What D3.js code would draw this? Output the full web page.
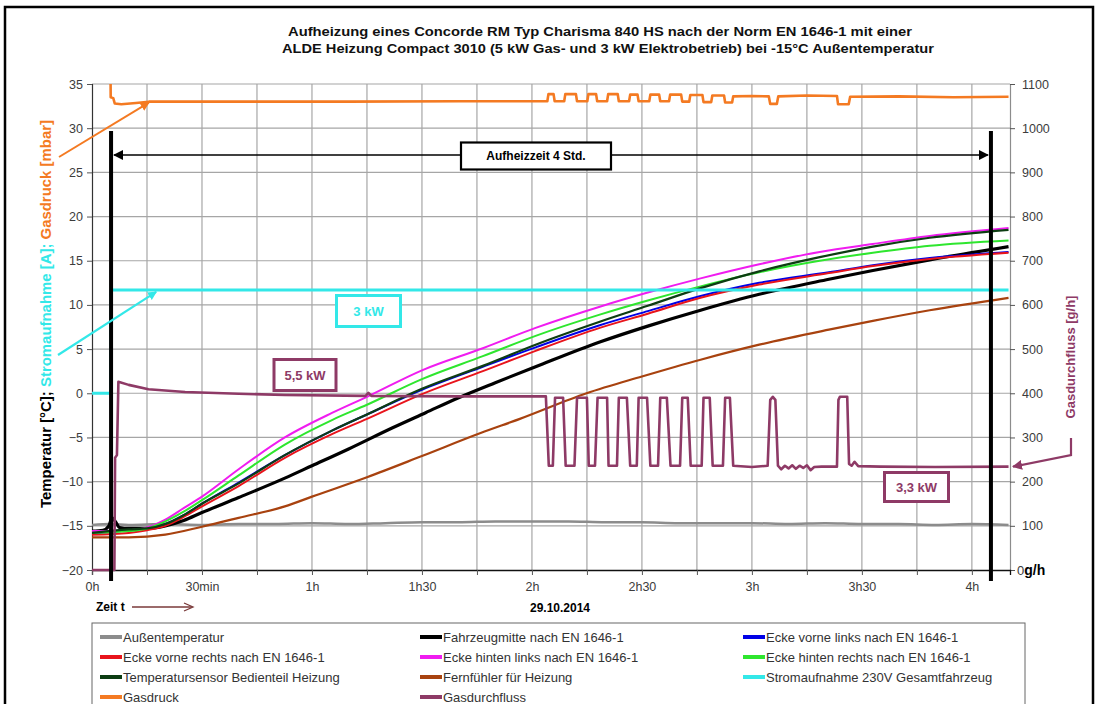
<!DOCTYPE html>
<html>
<head>
<meta charset="utf-8">
<script src="https://cdn.jsdelivr.net/npm/d3@7"></script>
<style>
  body { margin: 0; background: #fff; }
  svg { font-family: 'Liberation Sans', Arial, sans-serif; }
</style>
</head>
<body>
<div id="graf"></div>
<script>
// --- Daten (Zeit in Minuten, Werte in °C / A / mbar / g/h) ---
const seriesNames = [
  'Außentemperatur', 'Fahrzeugmitte nach EN 1646-1', 'Ecke vorne links nach EN 1646-1',
  'Ecke vorne rechts nach EN 1646-1', 'Ecke hinten links nach EN 1646-1', 'Ecke hinten rechts nach EN 1646-1',
  'Temperatursensor Bedienteil Heizung', 'Fernfühler für Heizung', 'Stromaufnahme 230V Gesamtfahrzeug',
  'Gasdruck', 'Gasdurchfluss'
]
const xTickValues = [0, 30, 60, 90, 120, 150, 180, 210, 240]
const xTickLabels = ['0h', '30min', '1h', '1h30', '2h', '2h30', '3h', '3h30', '4h']
const yLeftTicks = [-20, -15, -10, -5, 0, 5, 10, 15, 20, 25, 30, 35]
const yRightTicks = [0, 100, 200, 300, 400, 500, 600, 700, 800, 900, 1000, 1100]

const aussen = [[0,-14.9],[5,-14.8],[10,-14.9],[20,-14.8],[30,-14.9],[40,-14.8],[50,-14.8],[60,-14.7],[70,-14.8],[80,-14.7],[90,-14.6],[100,-14.6],[110,-14.5],[120,-14.5],[130,-14.5],[140,-14.6],[150,-14.6],[160,-14.7],[170,-14.7],[180,-14.7],[190,-14.8],[200,-14.7],[210,-14.8],[220,-14.8],[230,-14.9],[240,-14.8],[250,-14.9]]
const fahrzeugmitte = [[0,-15.6],[3,-15.5],[4.6,-15.0],[5.5,-14.1],[6.5,-14.6],[7.5,-15.2],[10,-15.3],[15,-15.3],[20,-15.0],[25,-14.4],[30,-13.5],[40,-11.8],[52.6,-9.6],[60,-8.2],[70,-6.3],[82,-3.9],[91,-2.2],[100,-0.5],[110,1.2],[121,3.0],[138.5,5.8],[151.6,7.6],[166,9.4],[182,11.2],[201,12.9],[213,13.9],[228.5,15.1],[250,16.6]]
const eckeVorneLinks = [[0,-15.9],[10,-15.5],[15,-15.3],[20,-14.8],[25,-13.8],[30,-12.5],[40,-10.1],[52.6,-7.0],[65.6,-4.2],[75,-2.4],[90,0.4],[106.6,3.0],[121,5.2],[138.5,7.7],[151.6,9.3],[166,11.0],[182,12.5],[201,13.7],[213,14.5],[228.5,15.3],[250,16.0]]
const eckeVorneRechts = [[0,-16.0],[10,-15.8],[15,-15.5],[20,-15.0],[25,-14.0],[30,-12.8],[40,-10.5],[52.6,-7.3],[65.6,-4.6],[75,-2.9],[90,-0.1],[106.6,2.5],[121,4.8],[138.5,7.4],[151.6,9.0],[166,10.8],[182,12.3],[201,13.6],[213,14.4],[228.5,15.2],[250,15.9]]
const eckeHintenLinks = [[0,-15.6],[10,-15.5],[15,-15.2],[20,-14.3],[25,-13.0],[30,-11.7],[40,-8.6],[52.6,-5.0],[65.6,-2.2],[75,-0.4],[90,2.6],[106.6,5.1],[121,7.4],[138.5,9.8],[151.6,11.4],[166,13.0],[182,14.6],[198.5,16.0],[213,16.9],[228.5,17.8],[250,18.7]]
const eckeHintenRechts = [[0,-15.8],[10,-15.6],[15,-15.3],[20,-14.5],[25,-13.4],[30,-12.1],[40,-9.3],[52.6,-5.8],[65.6,-3.0],[75,-1.3],[90,1.6],[106.6,4.2],[121,6.5],[138.5,8.9],[151.6,10.5],[166,12.1],[182,13.7],[198.5,15.0],[213,15.9],[228.5,16.7],[250,17.3]]
const tempSensor = [[0,-15.8],[10,-15.4],[15,-15.3],[20,-14.8],[25,-13.8],[30,-12.5],[40,-10.2],[52.6,-7.0],[65.6,-4.2],[75,-2.4],[90,0.5],[106.6,3.1],[121,5.5],[138.5,8.1],[151.6,9.9],[166,11.9],[182,13.8],[198.5,15.4],[213,16.6],[228.5,17.6],[250,18.5]]
const fernfuehler = [[0,-16.3],[10,-16.3],[20,-16.0],[30,-15.1],[40,-14.1],[52.6,-12.8],[60,-11.7],[75,-9.5],[90,-7.1],[106,-4.5],[116.7,-2.9],[134.9,0.0],[150,1.9],[166,3.8],[182,5.5],[201,7.2],[213,8.2],[228.5,9.4],[250,10.8]]
const strom = [[0,0],[5.1,0],[5.2,11.7],[250,11.7]]
const gasdruck = [[0,39],[5.0,39],[5.1,33.5],[5.8,33.4],[6.2,32.8],[8,32.7],[12,32.85],[15.5,33.0],[40,33.0],[70,33.0],[100,33.05],[124.2,33.05],
  [124.5,33.85],[125.9,33.85],[126.2,33.05],[128.8,33.05],[129.1,33.85],[132.0,33.85],[132.3,33.05],[135.1,33.05],[135.4,33.85],[137.5,33.85],[137.8,33.05],[140.5,33.05],[140.8,33.85],[143.4,33.85],[143.7,33.05],[146.5,33.05],[146.8,33.8],[148.8,33.8],[149.1,33.05],[152.0,33.05],[152.3,33.8],[154.7,33.8],[155.0,33.05],[157.4,33.05],[157.7,33.8],[160.7,33.8],[161.0,33.0],[162.9,33.0],[163.2,33.75],[166.5,33.75],[166.8,32.95],[168.9,32.95],[169.2,33.7],[172.4,33.7],[172.7,32.9],[174.6,32.9],[174.9,33.6],[180,33.65],[184.6,33.6],[185.0,32.75],[186.8,32.75],[187.2,33.6],[195,33.7],[203.2,33.65],[203.5,32.7],[206.4,32.7],[206.8,33.55],[220,33.6],[235,33.5],[250,33.55]]
const gasdurchfluss = [[0,0],[6.1,0],[6.3,254],[6.8,260],[7.2,426],[10,419],[15.4,409],[25.4,403],[40,399],[52.6,396],[74.6,394],[75.4,401],[76.2,394],[100,393],[123.8,393],
  [124.6,236],[125.7,236],[126.3,390],[128.5,390],[129.2,236],[131.6,236],[132.3,390],[135.0,390],[135.5,236],[137.2,236],[137.9,390],[140.5,390],[140.9,236],[143.2,236],[143.7,390],[145.9,390],[146.8,236],[148.6,236],[149.1,390],[151.4,390],[152.3,236],[154.4,236],[155.0,390],[156.8,390],[157.8,236],[160.4,236],[161.0,390],[162.5,390],[163.3,236],[166.3,236],[166.8,390],[168.5,390],[169.3,236],[172.1,236],[172.7,390],[174.0,390],[174.9,236],[180,233],[184.3,236],[185.0,385],[185.7,392],[186.4,385],[187.1,236],[188,228],[189,236],[190,230],[191,237],[192,229],[193,236],[194,231],[195,237],[196,226],[197,233],[199,234],[203.2,234],[203.6,385],[204,392],[206,392],[206.5,240],[207.2,236],[208,245],[209,235],[215,234],[230,233],[250,234]]

const colors = ['#8c8c8c', '#000000', '#0000e6', '#e8141c', '#f01cf0', '#2ee62e', '#0d3d12', '#a8420f', '#33e8e8', '#f47a22', '#8e3a66']
const widths = [2.5, 3.2, 2, 2, 2, 2, 2.2, 2.2, 3, 2.6, 2.6]
const seriesData = [aussen, fahrzeugmitte, eckeVorneLinks, eckeVorneRechts, eckeHintenLinks, eckeHintenRechts, tempSensor, fernfuehler, strom, gasdruck, gasdurchfluss]

const svg = d3.select('#graf').append('svg').attr('width', 1095).attr('height', 704)

const x = d3.scaleLinear().domain([0, 250.4]).range([92, 1010])
const yL = d3.scaleLinear().domain([-20, 35]).range([570, 84])
const yR = d3.scaleLinear().domain([0, 1100]).range([570, 84])

const defs = svg.append('defs')
defs.append('clipPath').attr('id', 'plot').append('rect')
  .attr('x', 92).attr('y', 84).attr('width', 918).attr('height', 490)
const marker = (id, col, size) => defs.append('marker').attr('id', id)
  .attr('viewBox', '0 0 10 10').attr('refX', 9).attr('refY', 5)
  .attr('markerWidth', size).attr('markerHeight', size).attr('orient', 'auto-start-reverse')
  .attr('markerUnits', 'userSpaceOnUse')
  .append('path').attr('d', 'M0,0L10,5L0,10z').attr('fill', col)
marker('arrBlack', '#000', 10)
marker('arrOrange', '#f47a22', 9)
marker('arrCyan', '#33e8e8', 9)
marker('arrPurple', '#8e3a66', 10)

// Rahmen
svg.append('rect').attr('x', 5).attr('y', 7).attr('width', 1088).attr('height', 720)
  .attr('fill', 'none').attr('stroke', '#000').attr('stroke-width', 2.5)

// Titel
const title = svg.append('text').attr('text-anchor', 'middle').attr('font-weight', 'bold')
  .attr('font-size', 13).attr('fill', '#111')
title.append('tspan').attr('x', 600).attr('y', 36).attr('textLength', 624).attr('lengthAdjust', 'spacingAndGlyphs')
  .text('Aufheizung eines Concorde RM Typ Charisma 840 HS nach der Norm EN 1646-1 mit einer')
title.append('tspan').attr('x', 608).attr('y', 53).attr('textLength', 652).attr('lengthAdjust', 'spacingAndGlyphs')
  .text('ALDE Heizung Compact 3010 (5 kW Gas- und 3 kW Elektrobetrieb) bei -15°C Außentemperatur')

// Gitter
const grid = svg.append('g').attr('stroke', '#a6a6a6').attr('stroke-width', 1.2)
grid.selectAll('.h').data(yLeftTicks.slice(1)).join('line')
  .attr('x1', 92).attr('x2', 1010).attr('y1', (d) => yL(d)).attr('y2', (d) => yL(d))
grid.selectAll('.v').data(d3.range(15, 250, 15)).join('line')
  .attr('y1', 84).attr('y2', 570).attr('x1', (d) => x(d)).attr('x2', (d) => x(d))

// Achsen
const leftAxis = svg.append('g').attr('transform', 'translate(92,0)')
  .call(d3.axisLeft(yL).tickValues(yLeftTicks).tickSize(5).tickPadding(4).tickFormat(d3.format('d')))
const rightAxis = svg.append('g').attr('transform', 'translate(1010,0)')
  .call(d3.axisRight(yR).tickValues(yRightTicks).tickSize(5).tickPadding(7).tickFormat((d) => (d === 0 ? '' : d)))
const bottomAxis = svg.append('g').attr('transform', 'translate(0,570)')
  .call(d3.axisBottom(x).tickValues(d3.range(0, 250, 15)).tickSize(5).tickPadding(7)
    .tickFormat((d) => (xTickValues.includes(d) ? xTickLabels[xTickValues.indexOf(d)] : '')))
;[leftAxis, rightAxis, bottomAxis].forEach((a) => {
  a.selectAll('text').attr('font-size', 12.5).attr('fill', '#3c3c3c')
    .attr('font-family', "'Liberation Sans', Arial, sans-serif")
  a.selectAll('line').attr('stroke', '#555')
})
leftAxis.select('.domain').attr('stroke', '#333').attr('stroke-width', 1.2)
rightAxis.select('.domain').attr('stroke', '#8c8c8c').attr('stroke-width', 1.2)
bottomAxis.select('.domain').attr('stroke', '#111').attr('stroke-width', 1.3)

const zero = svg.append('text').attr('x', 1017).attr('y', 575).attr('font-size', 13)
zero.append('tspan').attr('fill', '#3c3c3c').text('0')
zero.append('tspan').attr('font-weight', 'bold').attr('fill', '#000').attr('font-size', 14).text('g/h')

// Achsentitel
const lt = svg.append('text').attr('transform', 'translate(51,314) rotate(-90)')
  .attr('text-anchor', 'middle').attr('font-weight', 'bold').attr('font-size', 14)
  .attr('textLength', 388).attr('lengthAdjust', 'spacingAndGlyphs')
lt.append('tspan').attr('fill', '#000').text('Temperatur [°C]; ')
lt.append('tspan').attr('fill', '#33e8e8').text('Stromaufnahme [A]; ')
lt.append('tspan').attr('fill', '#f47a22').text('Gasdruck [mbar]')
svg.append('text').attr('transform', 'translate(1075,357) rotate(-90)')
  .attr('text-anchor', 'middle').attr('font-weight', 'bold').attr('font-size', 13)
  .attr('fill', '#8e3a66').text('Gasdurchfluss [g/h]')

// Kurven
const plot = svg.append('g').attr('clip-path', 'url(#plot)')
seriesData.forEach((data, i) => {
  const y = i === 10 ? yR : yL
  const line = d3.line().x((d) => x(d[0])).y((d) => y(d[1]))
    .curve(i <= 7 ? d3.curveMonotoneX : d3.curveLinear)
  plot.append('path').attr('d', line(data)).attr('fill', 'none')
    .attr('stroke', colors[i]).attr('stroke-width', widths[i]).attr('stroke-linejoin', 'round')
})

// Aufheizzeit-Markierung
const tStart = 5.2, tEnde = 245.2
;[tStart, tEnde].forEach((t) => {
  svg.append('line').attr('x1', x(t)).attr('x2', x(t)).attr('y1', 131).attr('y2', 581)
    .attr('stroke', '#000').attr('stroke-width', 4)
})
svg.append('line').attr('x1', x(tStart) + 3).attr('x2', x(tEnde) - 3).attr('y1', 155).attr('y2', 155)
  .attr('stroke', '#000').attr('stroke-width', 1.5)
  .attr('marker-start', 'url(#arrBlack)').attr('marker-end', 'url(#arrBlack)')

const box = (cx, cy, w, h, col, txt, sw, fs) => {
  svg.append('rect').attr('x', cx - w / 2).attr('y', cy - h / 2).attr('width', w).attr('height', h)
    .attr('fill', '#fff').attr('stroke', col).attr('stroke-width', sw)
  svg.append('text').attr('x', cx).attr('y', cy + fs * 0.36).attr('text-anchor', 'middle')
    .attr('font-weight', 'bold').attr('font-size', fs).attr('fill', col).text(txt)
}
box(536, 156, 150, 27, '#000', 'Aufheizzeit 4 Std.', 2.2, 12)
box(368.5, 311, 64, 31, '#33e8e8', '3 kW', 3, 13)
box(305, 375, 62, 31, '#8e3a66', '5,5 kW', 3, 13)
box(916.5, 487, 64, 29, '#8e3a66', '3,3 kW', 3, 13)

// Hinweispfeile
svg.append('line').attr('x1', 59).attr('y1', 157).attr('x2', x(15.5)).attr('y2', yL(33.0) + 1)
  .attr('stroke', '#f47a22').attr('stroke-width', 2).attr('marker-end', 'url(#arrOrange)')
svg.append('line').attr('x1', 58).attr('y1', 355).attr('x2', x(17.5)).attr('y2', yL(11.7) + 2)
  .attr('stroke', '#33e8e8').attr('stroke-width', 2.2).attr('marker-end', 'url(#arrCyan)')
svg.append('path').attr('d', `M1071,438L1071,455L${x(250.4) + 3},${yR(234)}`)
  .attr('fill', 'none').attr('stroke', '#8e3a66').attr('stroke-width', 2.2).attr('marker-end', 'url(#arrPurple)')

// Beschriftung unten
svg.append('text').attr('x', 96).attr('y', 611).attr('font-weight', 'bold').attr('font-size', 12).text('Zeit t')
svg.append('line').attr('x1', 132).attr('x2', 192).attr('y1', 607).attr('y2', 607)
  .attr('stroke', '#7a3a3a').attr('stroke-width', 1.3)
svg.append('path').attr('d', 'M184,603L193,607L184,611').attr('fill', 'none').attr('stroke', '#7a3a3a').attr('stroke-width', 1.3)
svg.append('text').attr('x', 560).attr('y', 612).attr('text-anchor', 'middle')
  .attr('font-weight', 'bold').attr('font-size', 12).text('29.10.2014')

// Legende
svg.append('rect').attr('x', 92).attr('y', 623).attr('width', 933).attr('height', 100)
  .attr('fill', '#fff').attr('stroke', '#666').attr('stroke-width', 1)
const legCols = [100, 420, 743]
const leg = svg.append('g').selectAll('g').data(seriesNames).join('g')
  .attr('transform', (d, i) => `translate(${legCols[i % 3]},${637 + Math.floor(i / 3) * 20})`)
leg.append('line').attr('x1', 0).attr('x2', 22).attr('stroke', (d, i) => colors[i]).attr('stroke-width', 4)
leg.append('text').attr('x', 23).attr('y', 4.5).attr('font-size', 13)
  .attr('fill', '#333').text((d) => d)
</script>
</body>
</html>
